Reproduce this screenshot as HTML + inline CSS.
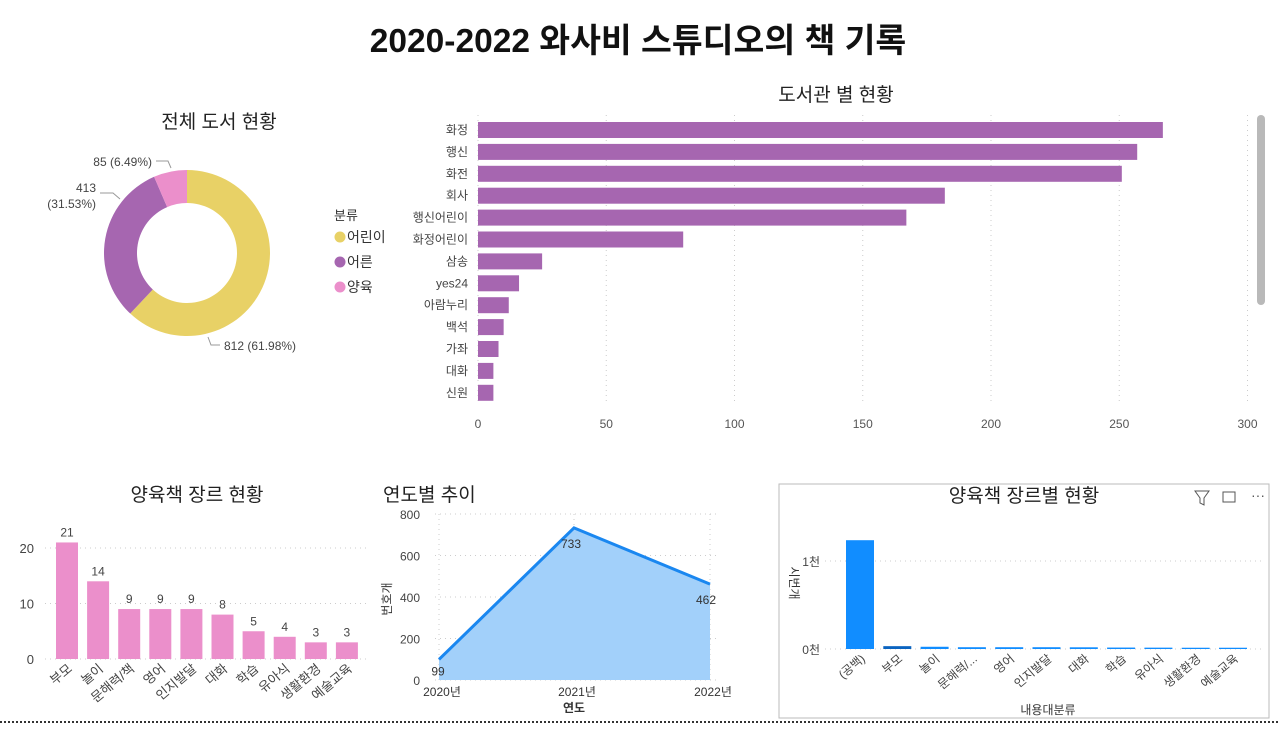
<!DOCTYPE html>
<html><head><meta charset="utf-8">
<style>
body{margin:0;width:1280px;height:734px;background:#fff;overflow:hidden;font-family:"Liberation Sans","Noto Sans CJK KR",sans-serif;}
svg text{font-family:"Liberation Sans","Noto Sans CJK KR",sans-serif;}
</style></head>
<body>
<svg id="s" width="1280" height="734">
<text x="638" y="52" text-anchor="middle" font-size="33.5" font-weight="bold" fill="#111">2020-2022 와사비 스튜디오의 책 기록</text>
<text x="219" y="128" text-anchor="middle" font-size="19" fill="#222">전체 도서 현황</text>
<text x="836" y="101" text-anchor="middle" font-size="19" fill="#222">도서관 별 현황</text>
<text x="197" y="501" text-anchor="middle" font-size="19" fill="#222">양육책 장르 현황</text>
<text x="383" y="501" font-size="19" fill="#222">연도별 추이</text>
<line x1="0" y1="722" x2="1280" y2="722" stroke="#333" stroke-width="2" stroke-dasharray="2,2"/>
<g id="donut"></g><g id="hbar"></g><g id="vbar"></g><g id="line"></g><g id="vbar2"></g>
</svg>
<script>
const NS='http://www.w3.org/2000/svg';
function mk(p,t,a,txt){const e=document.createElementNS(NS,t);for(const k in a)e.setAttribute(k,a[k]);if(txt!==undefined)e.textContent=txt;p.appendChild(e);return e;}

// Donut data
const donutCats=['어린이','어른','양육'];
const donutVals=[812,413,85];
const donutColors=['#E8D166','#A666B0','#EB8FCB'];
// Library data
const libCats=['화정','행신','화전','회사','행신어린이','화정어린이','삼송','yes24','아람누리','백석','가좌','대화','신원'];
const libVals=[267,257,251,182,167,80,25,16,12,10,8,6,6];
const libTicks=[0,50,100,150,200,250,300];
// Parenting genres
const genCats=['부모','놀이','문해력/책','영어','인지발달','대화','학습','유아식','생활환경','예술교육'];
const genVals=[21,14,9,9,9,8,5,4,3,3];
const genTicks=[0,10,20];
// Yearly
const years=['2020년','2021년','2022년'];
const yearVals=[99,733,462];
const yearTicks=[0,200,400,600,800];
// Genre w/ blank
const gen2Cats=['(공백)','부모','놀이','문해력/...','영어','인지발달','대화','학습','유아식','생활환경','예술교육'];
const gen2Vals=[1225,21,14,9,9,9,8,5,4,3,3];
const gen2Ticks=[0,1000];
const gen2TickLabels=['0천','1천'];

// ---- Donut
(function(){
const g=document.getElementById('donut');const cx=187,cy=253,R=83,r=50;
const tot=donutVals.reduce((a,b)=>a+b,0);let a0=0;
donutVals.forEach((v,i)=>{const a1=a0+v/tot*2*Math.PI;
 const p=(a,rr)=>[cx+rr*Math.sin(a),cy-rr*Math.cos(a)];
 const [x0,y0]=p(a0,R),[x1,y1]=p(a1,R),[x2,y2]=p(a1,r),[x3,y3]=p(a0,r);const lg=(a1-a0)>Math.PI?1:0;
 const e=mk(g,'path',{d:`M${x0},${y0}A${R},${R} 0 ${lg} 1 ${x1},${y1}L${x2},${y2}A${r},${r} 0 ${lg} 0 ${x3},${y3}Z`,fill:donutColors[i]});
 
 
 a0=a1;});
const lab=[[`${donutVals[0]} (${(donutVals[0]/tot*100).toFixed(2)}%)`,224,350,'start'],[`${donutVals[1]}`,96,192,'end'],[`(${(donutVals[1]/tot*100).toFixed(2)}%)`,96,208,'end'],[`${donutVals[2]} (${(donutVals[2]/tot*100).toFixed(2)}%)`,152,166,'end']];
lab.forEach(l=>{const t=mk(g,'text',{x:l[1],y:l[2],'font-size':12,fill:'#444','text-anchor':l[3]},l[0]);
 
 });
mk(g,'polyline',{points:'208,337 211,345 220,345',fill:'none',stroke:'#999'});
mk(g,'polyline',{points:'100,193 113,193 120,199',fill:'none',stroke:'#999'});
mk(g,'polyline',{points:'156,161 168,161 171,168',fill:'none',stroke:'#999'});
const lt=mk(g,'text',{x:334,y:220,'font-size':13,fill:'#333'},'분류');


donutCats.forEach((c,i)=>{const y=237+i*25;
 const ci=mk(g,'circle',{cx:340,cy:y,r:5.5,fill:donutColors[i]});
 
 
 const t=mk(g,'text',{x:347,y:y+5,'font-size':14,fill:'#333'},c);
 
 });
})();

// ---- Horizontal bars
(function(){
const g=document.getElementById('hbar');const x0=478,sc=2.565,y0=130,step=21.9,h=16;
const X=v=>x0+v*sc;
libTicks.forEach(t=>{mk(g,'line',{x1:X(t),x2:X(t),y1:115,y2:405,stroke:'#ccc','stroke-dasharray':'1,4'});
 const e=mk(g,'text',{x:X(t),y:428,'font-size':12,fill:'#555','text-anchor':'middle'},t);
 
 });
libCats.forEach((c,i)=>{const y=y0+i*step;
 const b=mk(g,'rect',{x:x0,y:y-h/2,width:libVals[i]*sc,height:h,fill:'#A666B0'});
 
 
 const t=mk(g,'text',{x:468,y:y+4,'font-size':12,fill:'#444','text-anchor':'end'},c);
 
 });
const sb=mk(g,'rect',{x:1257,y:115,width:8,height:190,rx:4,fill:'#b9b9b9'});


})();

// ---- Parenting genre bars
(function(){
const g=document.getElementById('vbar');const yb=659,sc=5.55,x0=67,step=31.1,w=22;
const Y=v=>yb-v*sc;
genTicks.forEach(t=>{mk(g,'line',{x1:45,x2:370,y1:Y(t),y2:Y(t),stroke:'#ccc','stroke-dasharray':'1,4'});
 const e=mk(g,'text',{x:34,y:Y(t)+5,'font-size':13,fill:'#444','text-anchor':'end'},t);
 
 });
genCats.forEach((c,i)=>{const x=x0+i*step;
 const b=mk(g,'rect',{x:x-w/2,y:Y(genVals[i]),width:w,height:genVals[i]*sc,fill:'#EB8FCB'});
 
 
 const v=mk(g,'text',{x:x,y:Y(genVals[i])-6,'font-size':12,fill:'#444','text-anchor':'middle'},genVals[i]);
 
 
 const t=mk(g,'text',{x:x+6,y:670,'font-size':13,fill:'#444','text-anchor':'end',transform:`rotate(-40 ${x+6} 670)`},c);
 
 });
})();

// ---- Line/area
(function(){
const g=document.getElementById('line');const yb=680,sc=166/800,xs=[439,574,710];
const Y=v=>yb-v*sc;
yearTicks.forEach(t=>{mk(g,'line',{x1:435,x2:720,y1:Y(t),y2:Y(t),stroke:'#ccc','stroke-dasharray':'1,4'});
 const e=mk(g,'text',{x:420,y:Y(t)+5,'font-size':12,fill:'#444','text-anchor':'end'},t);
 
 });
xs.forEach(x=>mk(g,'line',{x1:x,x2:x,y1:514,y2:680,stroke:'#ccc','stroke-dasharray':'1,4'}));
const pts=yearVals.map((v,i)=>`${xs[i]},${Y(v)}`).join(' ');
const a=mk(g,'polygon',{points:`${xs[0]},${yb} ${pts} ${xs[2]},${yb}`,fill:'#A2D0FA'});


const l=mk(g,'polyline',{points:pts,fill:'none',stroke:'#1A87F0','stroke-width':3});


const off=[[-1,16],[-3,20],[-4,20]];
yearVals.forEach((v,i)=>{const t=mk(g,'text',{x:xs[i]+off[i][0],y:Y(v)+off[i][1],'font-size':12,fill:'#333','text-anchor':'middle'},v);
 
 });
years.forEach((c,i)=>{const t=mk(g,'text',{x:xs[i]+3,y:696,'font-size':12,fill:'#333','text-anchor':'middle'},c);
 
 });
const xt=mk(g,'text',{x:574,y:712,'font-size':12,'font-weight':'bold',fill:'#333','text-anchor':'middle'},'연도');


const yt=mk(g,'text',{x:391,y:599,'font-size':12,fill:'#333','text-anchor':'middle',transform:'rotate(-90 391 599)'},'번호개');


})();

// ---- Genre with blank
(function(){
const g=document.getElementById('vbar2');const yb=649,sc=88/1000,x0=860,step=37.3,w=28;
const Y=v=>yb-v*sc;
const fr=mk(g,'rect',{x:779,y:484,width:490,height:234,fill:'none',stroke:'#bbb'});


const ti=mk(g,'text',{x:1024,y:502,'font-size':19,fill:'#222','text-anchor':'middle'},'양육책 장르별 현황');


const f=mk(g,'path',{d:'M1195,491h14l-5,7v7l-4,-2v-5z',fill:'none',stroke:'#555'});


const fo=mk(g,'rect',{x:1223,y:492,width:12,height:10,fill:'none',stroke:'#555'});


const mo=mk(g,'text',{x:1258,y:500,'font-size':14,fill:'#555','text-anchor':'middle'},'···');


gen2Ticks.forEach((t,i)=>{mk(g,'line',{x1:825,x2:1262,y1:Y(t),y2:Y(t),stroke:'#ccc','stroke-dasharray':'1,4'});
 const e=mk(g,'text',{x:820,y:Y(t)+5,'font-size':12,fill:'#444','text-anchor':'end'},gen2TickLabels[i]);
 
 });
gen2Cats.forEach((c,i)=>{const x=x0+i*step;
 const b=mk(g,'rect',{x:x-w/2,y:Y(gen2Vals[i])-1,width:w,height:gen2Vals[i]*sc+1,fill:i==1?'#0B64C0':'#118DFF'});
 
 
 const t=mk(g,'text',{x:x+6,y:660,'font-size':12,fill:'#444','text-anchor':'end',transform:`rotate(-40 ${x+6} 660)`},c);
 
 });
const xt=mk(g,'text',{x:1048,y:714,'font-size':12,fill:'#333','text-anchor':'middle'},'내용대분류');


const yt=mk(g,'text',{x:790,y:583,'font-size':12,fill:'#333','text-anchor':'middle',transform:'rotate(90 790 583)'},'시번개');


})();
</script>
</body></html>
